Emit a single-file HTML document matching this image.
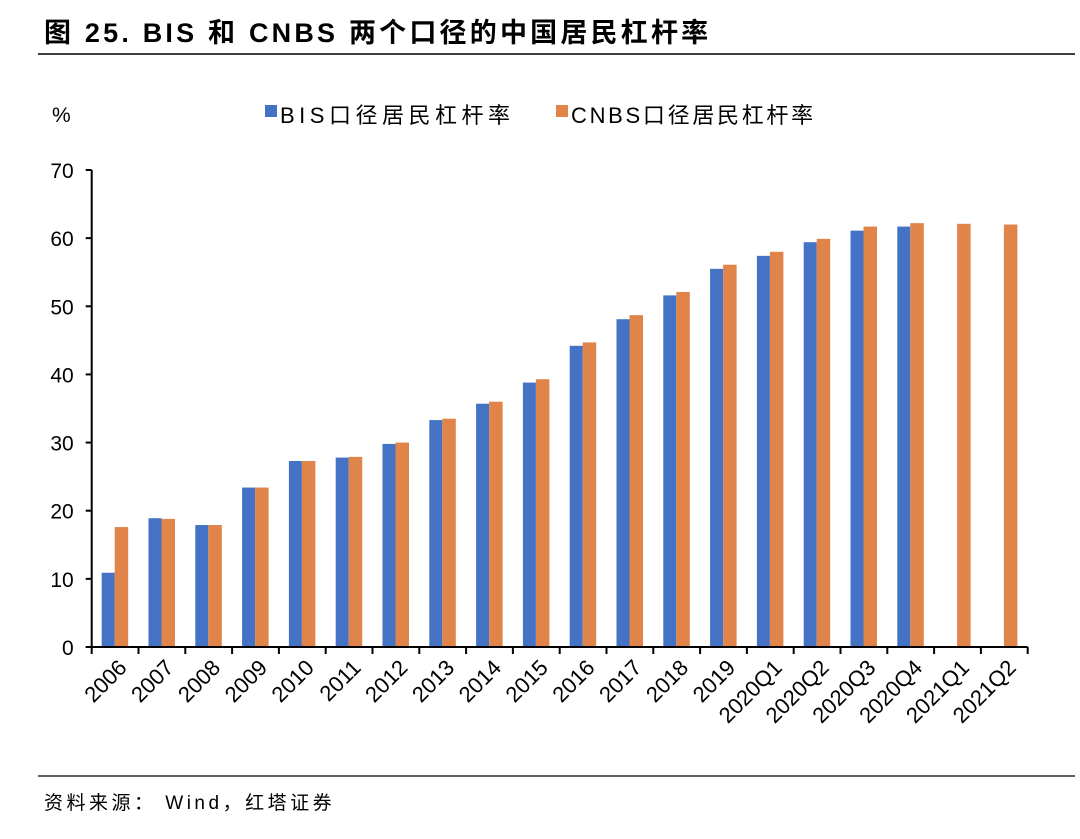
<!DOCTYPE html>
<html><head><meta charset="utf-8"><style>
body{margin:0;background:#fff;width:1080px;height:834px;overflow:hidden;font-family:"Liberation Sans","Noto Sans CJK SC",sans-serif}
</style></head><body>
<svg width="1080" height="834" xmlns="http://www.w3.org/2000/svg">
<text x="44" y="42" font-size="27" font-weight="bold" fill="#000" letter-spacing="3.2" font-family="Liberation Sans,Noto Sans CJK SC,sans-serif">图 25. BIS 和 CNBS 两个口径的中国居民杠杆率</text>
<line x1="38" y1="54" x2="1075" y2="54" stroke="#000" stroke-width="1.5"/>
<text x="52" y="122" font-size="21">%</text>
<rect x="265" y="105" width="12" height="12" fill="#4472C4"/>
<text x="280" y="123" font-size="22" letter-spacing="4.5">BIS口径居民杠杆率</text>
<rect x="556" y="105" width="12" height="12" fill="#E0844A"/>
<text x="571" y="123" font-size="22" letter-spacing="2.7">CNBS口径居民杠杆率</text>
<g id="plot"></g>
<line x1="38" y1="776" x2="1075" y2="776" stroke="#000" stroke-width="1.2"/>
<text x="44" y="809" font-size="19" letter-spacing="3.5">资料来源：  Wind，红塔证券</text>
</svg>
<script>
const categories=["2006","2007","2008","2009","2010","2011","2012","2013","2014","2015","2016","2017","2018","2019","2020Q1","2020Q2","2020Q3","2020Q4","2021Q1","2021Q2"];
const bisValues=[10.9,18.9,17.9,23.4,27.3,27.8,29.8,33.3,35.7,38.8,44.2,48.1,51.6,55.5,57.4,59.4,61.1,61.7,null,null];
const cnbsValues=[17.6,18.8,17.9,23.4,27.3,27.9,30.0,33.5,36.0,39.3,44.7,48.7,52.1,56.1,58.0,59.9,61.7,62.2,62.1,62.0];
const yTicks=[0,10,20,30,40,50,60,70];
const NS="http://www.w3.org/2000/svg";
const g=document.getElementById('plot');
const x0=91.7,cw=46.8,y0=647,ymax=70,yTop=170;
const yS=v=>y0-(v/ymax)*(y0-yTop);
const xS=i=>x0+i*cw;
function el(t,a){const e=document.createElementNS(NS,t);for(const k in a)e.setAttribute(k,a[k]);g.appendChild(e);return e;}
yTicks.forEach(t=>{
 const l=el('line',{x1:x0-6,x2:x0,y1:yS(t),y2:yS(t),stroke:'#000','stroke-width':2});
 
 
 const tx=el('text',{x:x0-18,y:yS(t)+8,'font-size':21,'text-anchor':'end'});tx.textContent=t;
 
 
});
categories.forEach((c,i)=>{
 if(bisValues[i]!=null){const r=el('rect',{x:xS(i)+10,y:yS(bisValues[i]),width:13,height:y0-yS(bisValues[i]),fill:'#4472C4'});
 
 }
 if(cnbsValues[i]!=null){const r=el('rect',{x:xS(i)+23,y:yS(cnbsValues[i]),width:13.5,height:y0-yS(cnbsValues[i]),fill:'#E0844A'});
 
 }
 const tk=el('line',{x1:xS(i+1),x2:xS(i+1),y1:y0,y2:y0+7,stroke:'#000','stroke-width':2});
 
 
 const cx=xS(i)+cw/2+13,cy=y0+22;
 const tx=el('text',{x:cx,y:cy,'font-size':22,'text-anchor':'end',transform:`rotate(-45 ${cx} ${cy})`});tx.textContent=c;
 
 
});
const t0=el('line',{x1:x0,x2:x0,y1:y0,y2:y0+7,stroke:'#000','stroke-width':2});


const ya=el('line',{x1:x0,x2:x0,y1:yTop,y2:y0,stroke:'#000','stroke-width':2});


const xa=el('line',{x1:x0-6,x2:xS(categories.length),y1:y0,y2:y0,stroke:'#000','stroke-width':2});


</script>
</body></html>
